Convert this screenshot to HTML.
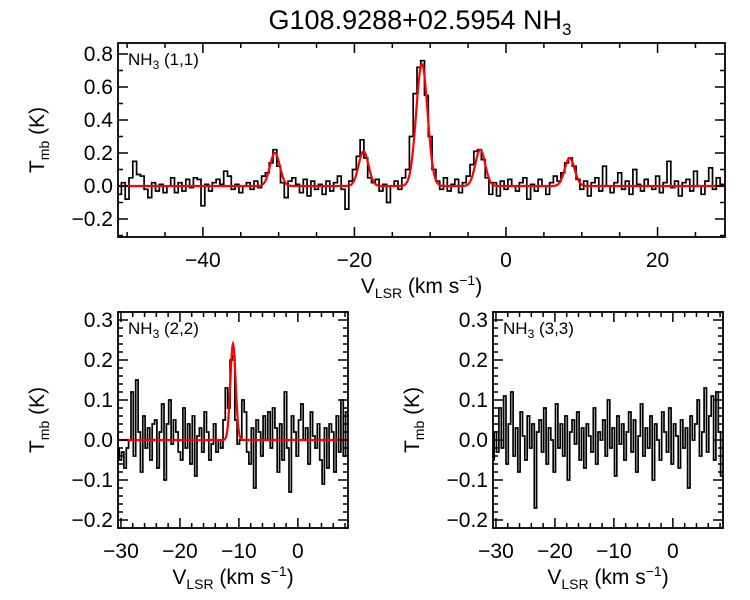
<!DOCTYPE html>
<html><head><meta charset="utf-8"><style>
body{margin:0;background:#fff}
svg{display:block;font-family:"Liberation Sans",sans-serif}
</style></head><body>
<svg id="chart" width="750" height="600" viewBox="0 0 750 600" xmlns="http://www.w3.org/2000/svg">
<text x="420" y="29" font-size="27" text-anchor="middle">G108.9288+02.5954 NH<tspan font-size="17" dy="6">3</tspan></text>
</svg>
<script>
// NH3 (1,1): channels from -51 km/s, step 0.5
const top_v0 = -51, top_dv = 0.5;
const top_values = [-0.05,0.02,-0.08,0.05,0.15,0.07,0.06,-0.02,-0.07,0.02,
-0.03,0.01,-0.04,0.00,0.05,-0.04,0.02,-0.03,0.04,-0.01,
0.05,0.04,-0.12,0.01,-0.03,0.02,0.04,0.01,0.09,0.06,
-0.02,0.01,-0.04,0.00,0.02,-0.02,0.03,-0.01,0.06,0.08,
0.14,0.22,0.12,0.02,-0.07,0.03,0.05,0.01,-0.04,0.04,
-0.06,0.03,-0.02,0.01,-0.05,0.03,-0.03,0.02,0.06,-0.02,
-0.14,0.03,0.10,0.18,0.28,0.17,0.05,0.02,0.04,-0.03,
0.01,-0.10,0.00,0.03,-0.02,0.05,0.10,0.30,0.56,0.72,
0.76,0.55,0.30,0.10,0.03,-0.02,0.05,-0.03,0.01,0.04,
-0.04,0.02,0.06,0.13,0.21,0.22,0.16,0.05,-0.05,0.02,
-0.06,0.03,-0.02,0.04,0.00,-0.03,0.02,0.05,-0.08,0.01,
-0.03,0.04,0.00,-0.05,0.02,0.06,0.03,0.08,0.14,0.17,
0.12,0.04,-0.02,0.03,-0.06,0.02,0.05,-0.03,0.12,0.00,
-0.04,0.02,0.08,-0.02,0.03,-0.05,0.10,0.01,-0.03,0.04,
0.00,-0.02,0.06,-0.04,0.02,0.15,-0.01,0.03,-0.06,0.02,
0.04,-0.03,0.09,0.00,-0.05,0.03,0.11,-0.02,0.05,0.01];
const top_fit_centers = [-30.5,-18.8,-11.1,-3.4,8.4];
const top_fit_amps = [0.20,0.21,0.74,0.22,0.17];
const top_fit_sigmas = [0.65,0.65,0.75,0.65,0.65];
const top_xticks = [-40,-20,0,20];
const top_yticks = [-0.2,0.0,0.2,0.4,0.6,0.8];

// NH3 (2,2)
const b_v0 = -30.5, b_dv = 0.4;
const bl_values = [-0.02,-0.05,-0.03,-0.07,-0.02,0.00,0.12,-0.04,0.15,0.02,
-0.08,0.06,-0.02,0.03,-0.05,0.04,0.05,-0.07,0.02,0.09,
-0.10,0.04,0.10,-0.01,0.05,0.02,-0.03,-0.05,0.08,-0.02,
0.04,-0.06,0.06,-0.09,0.01,0.03,-0.03,0.07,0.02,-0.05,
-0.01,0.04,-0.03,0.00,-0.02,0.05,0.13,0.08,0.20,0.21,
0.05,-0.01,0.00,0.10,0.07,-0.03,-0.06,0.03,-0.12,0.05,
0.02,-0.04,0.06,0.00,0.07,-0.02,0.08,0.03,-0.08,0.04,
-0.05,0.12,-0.02,-0.13,0.06,0.02,-0.04,0.05,0.09,0.00,
0.03,-0.06,0.07,0.01,-0.02,0.04,-0.05,-0.11,0.03,-0.07,
0.04,0.02,-0.08,0.06,-0.03,0.10,-0.04,0.07];
const bl_fit_centers = [-11.0];
const bl_fit_amps = [0.24];
const bl_fit_sigmas = [0.45];
// NH3 (3,3)
const br_values = [-0.05,0.02,-0.03,0.08,-0.02,0.11,-0.06,0.04,0.12,-0.04,
0.03,-0.08,0.07,0.01,-0.05,0.06,-0.02,0.04,-0.17,0.02,
0.05,-0.03,0.08,-0.06,0.03,0.00,-0.08,0.09,-0.02,0.04,
-0.04,0.06,-0.10,0.02,0.05,-0.01,0.07,-0.05,0.03,-0.07,
0.04,0.01,-0.03,0.08,-0.06,0.02,0.00,0.05,-0.04,0.10,
-0.02,0.03,-0.09,0.06,-0.01,0.04,-0.05,0.02,0.07,-0.03,
0.05,-0.08,0.01,0.09,-0.04,0.03,-0.02,0.06,-0.10,0.04,
0.00,-0.05,0.07,0.02,-0.03,0.08,-0.06,0.04,0.01,-0.07,
0.05,-0.02,0.03,-0.12,0.06,0.00,0.04,0.10,-0.04,0.02,
0.13,-0.03,0.06,0.11,-0.05,0.12,0.02,-0.09];
const b_xticks = [-30,-20,-10,0];
const b_yticks = [-0.2,-0.1,0.0,0.1,0.2,0.3];

const NS='http://www.w3.org/2000/svg';
const svg=document.getElementById('chart');
function mk(tag,attrs,parent){const e=document.createElementNS(NS,tag);for(const k in attrs)e.setAttribute(k,attrs[k]);(parent||svg).appendChild(e);return e;}
function fmt(t,d){const s=Math.abs(t).toFixed(d);return (t<-1e-9?'\u2212':'')+s;}

function panel(o){
  const g=mk('g',{});
  
  
  const X=v=>o.L+(v-o.xmin)/(o.xmax-o.xmin)*(o.R-o.L);
  const Y=t=>o.B-(t-o.ymin)/(o.ymax-o.ymin)*(o.B-o.T);
  let d='';
  o.values.forEach((val,i)=>{
    const v=o.v0+i*o.dv;
    const x1=Math.max(o.L,X(v-o.dv/2)),x2=Math.min(o.R,X(v+o.dv/2));
    if(x2<=o.L||x1>=o.R)return;
    const y=Math.max(o.T,Math.min(o.B,Y(val)));
    d+=(d?'L':'M')+x1.toFixed(1)+','+y.toFixed(1)+'L'+x2.toFixed(1)+','+y.toFixed(1);
  });
  const sp=mk('path',{d:d,fill:'none',stroke:'#000','stroke-width':1.7},g);
  
  
  if(o.centers){
    let fd='';
    for(let px=o.L;px<=o.R;px+=0.5){
      const v=o.xmin+(px-o.L)/(o.R-o.L)*(o.xmax-o.xmin);
      let t=0;o.centers.forEach((c,k)=>{t+=o.amps[k]*Math.exp(-0.5*((v-c)/o.sigmas[k])**2);});
      fd+=(fd?'L':'M')+px.toFixed(1)+','+Y(t).toFixed(1);
    }
    const fp=mk('path',{d:fd,fill:'none',stroke:'#f00','stroke-width':2.2},g);
    
    
  }
  const fr=mk('rect',{x:o.L,y:o.T,width:o.R-o.L,height:o.B-o.T,fill:'none',stroke:'#000','stroke-width':1.8},g);
  
  
  let td='';
  for(let v=Math.ceil(o.xmin/o.xminor)*o.xminor;v<=o.xmax;v+=o.xminor){
    const x=X(v);const maj=Math.abs(v/o.xmajor-Math.round(v/o.xmajor))<1e-6;const l=maj?10:5;
    td+=`M${x},${o.B}V${o.B-l}M${x},${o.T}V${o.T+l}`;
  }
  for(let k=Math.ceil(o.ymin/o.yminor-1e-6);k*o.yminor<=o.ymax+1e-9;k++){
    const t=k*o.yminor;const y=Y(t);const maj=Math.abs(t/o.ymajor-Math.round(t/o.ymajor))<1e-6;const l=maj?10:5;
    td+=`M${o.L},${y}H${o.L+l}M${o.R},${y}H${o.R-l}`;
  }
  const tp=mk('path',{d:td,stroke:'#000','stroke-width':1.5,fill:'none'},g);
  
  
  o.xticks.forEach(v=>{
    const t=mk('text',{x:X(v),y:o.B+30,'font-size':21,'text-anchor':'middle'},g);
    t.textContent=fmt(v,0);
    
    
  });
  o.yticks.forEach(v=>{
    const t=mk('text',{x:o.L-5,y:Y(v)+7,'font-size':21,'text-anchor':'end'},g);
    t.textContent=fmt(v,1);
    
    
  });
  const xl=mk('text',{x:(o.L+o.R)/2,y:o.B+56,'font-size':21,'text-anchor':'middle'},g);
  xl.innerHTML='V<tspan font-size="14" dy="5">LSR</tspan><tspan dy="-5"> (km s</tspan><tspan font-size="14" dy="-8">\u22121</tspan><tspan dy="8">)</tspan>';
  
  
  const yl=mk('text',{x:0,y:0,'font-size':21,'text-anchor':'middle',transform:`translate(${o.ylx},${(o.T+o.B)/2}) rotate(-90)`},g);
  yl.innerHTML='T<tspan font-size="14" dy="5">mb</tspan><tspan dy="-5"> (K)</tspan>';
  
  
  const lab=mk('text',{x:o.L+10,y:o.T+22,'font-size':17},g);
  lab.innerHTML='NH<tspan font-size="12" dy="4">3</tspan><tspan dy="-4"> '+o.label+'</tspan>';
  
  
}
panel({name:'panel-nh3-11',L:118,R:725,T:43,B:237,xmin:-51.2,xmax:28.9,ymin:-0.309,ymax:0.867,
  values:top_values,v0:top_v0,dv:top_dv,centers:top_fit_centers,amps:top_fit_amps,sigmas:top_fit_sigmas,
  xticks:top_xticks,yticks:top_yticks,xminor:5,xmajor:20,yminor:0.1,ymajor:0.2,ylx:44,label:'(1,1)'});
panel({name:'panel-nh3-22',L:118,R:348,T:312,B:528,xmin:-30.5,xmax:8.5,ymin:-0.22,ymax:0.32,
  values:bl_values,v0:b_v0,dv:b_dv,centers:bl_fit_centers,amps:bl_fit_amps,sigmas:bl_fit_sigmas,
  xticks:b_xticks,yticks:b_yticks,xminor:2,xmajor:10,yminor:0.02,ymajor:0.1,ylx:44,label:'(2,2)'});
panel({name:'panel-nh3-33',L:493,R:723,T:312,B:528,xmin:-30.5,xmax:8.5,ymin:-0.22,ymax:0.32,
  values:br_values,v0:b_v0,dv:b_dv,
  xticks:b_xticks,yticks:b_yticks,xminor:2,xmajor:10,yminor:0.02,ymajor:0.1,ylx:419,label:'(3,3)'});
</script>
</body></html>
